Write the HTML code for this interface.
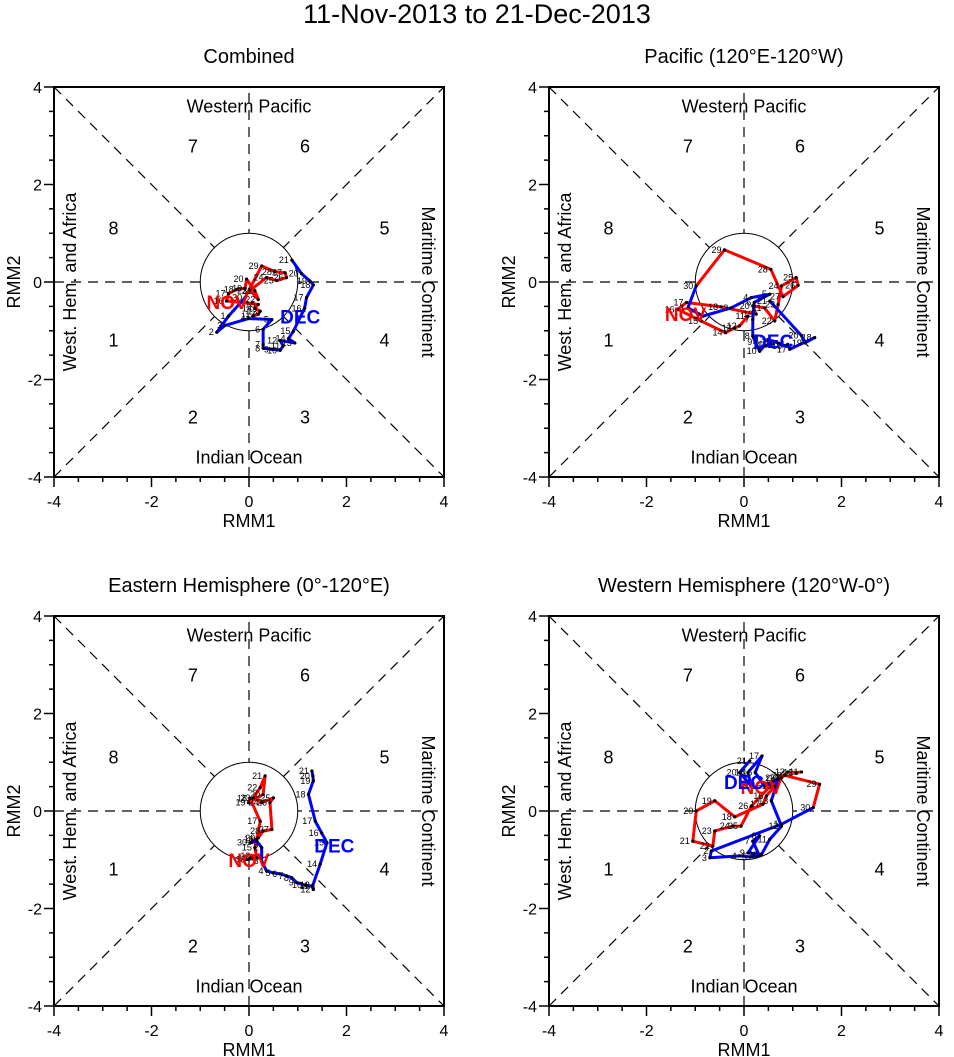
<!DOCTYPE html>
<html><head><meta charset="utf-8"><style>
html,body{margin:0;padding:0;background:#fff;}
svg{display:block;font-family:"Liberation Sans",Arial,sans-serif;}
</style></head><body>
<svg id="chart" width="954" height="1057" viewBox="0 0 954 1057" xmlns="http://www.w3.org/2000/svg">
<text x="477" y="23" font-size="27" text-anchor="middle">11-Nov-2013 to 21-Dec-2013</text>
</svg>
<script>
const panelTitles = ["Combined","Pacific (120°E-120°W)","Eastern Hemisphere (0°-120°E)","Western Hemisphere (120°W-0°)"];
const tickValues = [-4,-2,0,2,4];
const tickLabels = ["-4","-2","0","2","4"];
const novDays = [11,12,13,14,15,16,17,18,19,20,21,22,23,24,25,26,27,28,29,30];
const decDays = [1,2,3,4,5,6,7,8,9,10,11,12,13,14,15,16,17,18,19,20,21];

const p1NovX = [0.09,0.19,0.23,0.12,0.19,-0.46,-0.42,-0.25,-0.08,-0.05,0.12,0.19,0.02,0.36,0.57,0.77,0.74,0.53,0.26,-0.08];
const p1NovY = [-0.70,-0.66,-0.60,-0.54,-0.46,-0.39,-0.24,-0.15,-0.13,0.06,-0.18,-0.36,-0.17,0.09,0.03,0.09,0.19,0.21,0.33,-0.32];
const p1DecX = [-0.42,-0.66,-0.49,-0.01,0.47,0.29,0.29,0.29,0.47,0.64,0.70,0.64,0.94,0.81,0.91,1.14,1.18,1.32,1.25,1.08,0.88];
const p1DecY = [-0.70,-1.03,-0.89,-0.75,-0.77,-0.97,-1.28,-1.36,-1.38,-1.40,-1.31,-1.20,-1.25,-1.16,-1.01,-0.54,-0.32,-0.06,0.02,0.17,0.45];

const p2NovX = [0.08,-0.09,-0.19,-0.38,-0.88,-1.36,-1.18,-0.47,0.25,0.18,0.42,0.63,0.70,0.77,1.07,1.11,0.80,0.55,-0.40,-0.98];
const p2NovY = [-0.70,-0.90,-0.94,-1.04,-0.80,-0.56,-0.42,-0.51,-0.66,-0.49,-0.53,-0.80,-0.46,-0.08,0.09,-0.07,-0.30,0.26,0.66,-0.08];
const p2DecX = [-1.15,-0.84,-0.26,0.15,0.53,0.21,0.18,0.18,0.23,0.32,0.42,0.56,0.49,0.70,0.84,0.90,0.94,1.45,1.25,1.18,0.53];
const p2DecY = [-0.53,-0.70,-0.53,-0.32,-0.25,-0.42,-0.77,-1.11,-1.23,-1.42,-1.31,-1.28,-1.18,-1.25,-1.31,-1.28,-1.38,-1.14,-1.25,-1.10,-0.39];

const p3NovX = [0.02,0.09,-0.01,0.16,0.12,0.16,0.23,0.02,-0.01,0.29,0.33,0.23,0.09,0.26,0.50,0.43,0.47,0.29,0.19,0.02];
const p3NovY = [-0.96,-0.92,-0.99,-0.96,-0.75,-0.58,-0.21,0.26,0.17,0.34,0.72,0.48,0.27,0.17,0.27,0.17,-0.38,-0.41,-0.55,-0.65];
const p3DecX = [0.16,0.26,0.26,0.36,0.50,0.64,0.77,0.88,0.98,1.15,1.29,1.32,1.31,1.46,1.60,1.49,1.36,1.22,1.32,1.31,1.29];
const p3DecY = [-0.62,-0.75,-1.03,-1.23,-1.27,-1.29,-1.33,-1.37,-1.47,-1.52,-1.54,-1.61,-1.52,-1.09,-0.65,-0.45,-0.21,0.34,0.62,0.72,0.82];

const p4NovX = [1.18,1.07,0.90,0.77,0.63,0.46,0.39,-0.19,-0.60,-0.98,-1.05,-0.64,-0.60,-0.23,-0.06,0.15,0.70,0.84,1.55,1.42];
const p4NovY = [0.80,0.79,0.80,0.68,0.51,0.31,0.14,-0.12,0.21,0.00,-0.62,-0.72,-0.41,-0.31,-0.31,0.10,0.68,0.73,0.55,0.07];
const p4DecX = [0.77,-0.67,-0.70,-0.09,0.12,0.32,0.18,0.32,0.08,0.36,0.53,0.77,0.56,0.70,0.42,0.23,0.37,0.08,0.15,-0.09,0.12];
const p4DecY = [-0.27,-0.82,-0.96,-0.92,-0.94,-0.92,-0.62,-0.51,-0.86,-0.89,-0.58,-0.31,0.21,0.65,0.51,0.79,1.13,0.79,0.51,0.79,1.03];

const panelNov = [[p1NovX,p1NovY],[p2NovX,p2NovY],[p3NovX,p3NovY],[p4NovX,p4NovY]];
const panelDec = [[p1DecX,p1DecY],[p2DecX,p2DecY],[p3DecX,p3DecY],[p4DecX,p4DecY]];
const novLabelPos = [[-0.45,-0.55],[-1.2,-0.8],[0.0,-1.15],[0.35,0.35]];
const decLabelPos = [[1.05,-0.85],[0.6,-1.35],[1.75,-0.85],[0.0,0.45]];

const svg = document.getElementById('chart');
const NS = 'http://www.w3.org/2000/svg';
function mk(tag, attrs, parent){
  const e = document.createElementNS(NS, tag);
  for (const k in attrs) e.setAttribute(k, attrs[k]);
  (parent||svg).appendChild(e);
  return e;
}
const origins = [[54,87],[549,87],[54,616],[549,616]];
const SIZE = 390;
const S = SIZE/8;

origins.forEach(function(o, pi){
  const g = mk('g', {});
  
  
  const sx = v => o[0] + (v+4)*S;
  const sy = v => o[1] + (4-v)*S;
  const cx = sx(0), cy = sy(0);
  const t = mk('text', {x: cx, y: o[1]-24, 'font-size': 20, 'text-anchor':'middle'}, g);
  t.textContent = panelTitles[pi];
  
  
  // dashed lines
  const dash = {stroke:'#000','stroke-width':1.2,'stroke-dasharray':'10,7',fill:'none'};
  [[-4,-4,4,4],[-4,4,4,-4],[-4,0,4,0],[0,-4,0,4]].forEach(function(l){
    const ln = mk('line', Object.assign({x1:sx(l[0]),y1:sy(l[1]),x2:sx(l[2]),y2:sy(l[3])}, dash), g);
    
    
  });
  const circ = mk('circle', {cx:cx, cy:cy, r:S, fill:'#fff', stroke:'#000','stroke-width':1}, g);
  
  
  // frame
  const fr = mk('rect', {x:o[0], y:o[1], width:SIZE, height:SIZE, fill:'none', stroke:'#000','stroke-width':2}, g);
  
  
  // ticks
  for (let v=-4; v<=4.001; v+=0.5){
    const major = Math.abs(v - Math.round(v/2)*2) < 0.01;
    const len = major ? 10 : 5;
    mk('line', {x1:sx(v), y1:o[1]+SIZE, x2:sx(v), y2:o[1]+SIZE+len, stroke:'#000','stroke-width':1.5}, g);
    mk('line', {x1:o[0], y1:sy(v), x2:o[0]-len, y2:sy(v), stroke:'#000','stroke-width':1.5}, g);
  }
  tickValues.forEach(function(v, i){
    const tx = mk('text', {x:sx(v), y:o[1]+SIZE+30, 'font-size':16, 'text-anchor':'middle'}, g);
    tx.textContent = tickLabels[i];
    
    
    const ty = mk('text', {x:o[0]-12, y:sy(v)+6, 'font-size':16, 'text-anchor':'end'}, g);
    ty.textContent = tickLabels[i];
    
    
  });
  const xt = mk('text', {x:cx, y:o[1]+SIZE+50, 'font-size':18, 'text-anchor':'middle'}, g);
  xt.textContent = 'RMM1';
  
  
  const yt = mk('text', {x:o[0]-34, y:cy, 'font-size':18, 'text-anchor':'middle', transform:'rotate(-90 '+(o[0]-34)+' '+cy+')'}, g);
  yt.textContent = 'RMM2';
  
  
  // region labels
  const r1 = mk('text', {x:cx, y:sy(3.48), 'font-size':18, 'text-anchor':'middle'}, g);
  r1.textContent = 'Western Pacific';
  
  
  const r2 = mk('text', {x:cx, y:sy(-3.72), 'font-size':18, 'text-anchor':'middle'}, g);
  r2.textContent = 'Indian Ocean';
  
  
  const lx = sx(-3.55);
  const r3 = mk('text', {x:lx, y:cy, 'font-size':18, 'text-anchor':'middle', transform:'rotate(-90 '+lx+' '+cy+')'}, g);
  r3.textContent = 'West. Hem. and Africa';
  
  
  const rx = sx(3.55);
  const r4 = mk('text', {x:rx, y:cy, 'font-size':18, 'text-anchor':'middle', transform:'rotate(90 '+rx+' '+cy+')'}, g);
  r4.textContent = 'Maritime Continent';
  
  
  // phase numbers
  [[1,-2.78,-1.2],[2,-1.15,-2.78],[3,1.15,-2.78],[4,2.78,-1.2],[5,2.78,1.1],[6,1.15,2.78],[7,-1.15,2.78],[8,-2.78,1.1]].forEach(function(p){
    const pn = mk('text', {x:sx(p[1]), y:sy(p[2])+6, 'font-size':18, 'text-anchor':'middle'}, g);
    pn.textContent = String(p[0]);
    
    
  });
  // trajectories
  const nx = panelNov[pi][0], ny = panelNov[pi][1];
  const dx = panelDec[pi][0], dy = panelDec[pi][1];
  let pts = nx.map((v,i)=>sx(v)+','+sy(ny[i])).join(' ');
  const redLine = mk('polyline', {points:pts, fill:'none', stroke:'#f00','stroke-width':3,'stroke-linejoin':'round'}, g);
  
  
  let bpts = sx(nx[nx.length-1])+','+sy(ny[ny.length-1])+' '+dx.map((v,i)=>sx(v)+','+sy(dy[i])).join(' ');
  const blueLine = mk('polyline', {points:bpts, fill:'none', stroke:'#00f','stroke-width':3,'stroke-linejoin':'round'}, g);
  
  
  function dots(xs, ys, days){
    xs.forEach(function(v,i){
      const d = mk('circle', {cx:sx(v), cy:sy(ys[i]), r:1.6, fill:'#000'}, g);
      
      
      const l = mk('text', {x:sx(v)-3, y:sy(ys[i])+3, 'font-size':9, 'text-anchor':'end'}, g);
      l.textContent = String(days[i]);
      
      
    });
  }
  dots(nx, ny, novDays);
  dots(dx, dy, decDays);
  const nl = mk('text', {x:sx(novLabelPos[pi][0]), y:sy(novLabelPos[pi][1]), 'font-size':19, 'font-weight':'bold', fill:'#f00', 'text-anchor':'middle'}, g);
  nl.textContent = 'NOV';
  
  
  const dl = mk('text', {x:sx(decLabelPos[pi][0]), y:sy(decLabelPos[pi][1]), 'font-size':19, 'font-weight':'bold', fill:'#00f', 'text-anchor':'middle'}, g);
  dl.textContent = 'DEC';
  
  
});
</script>
</body></html>
